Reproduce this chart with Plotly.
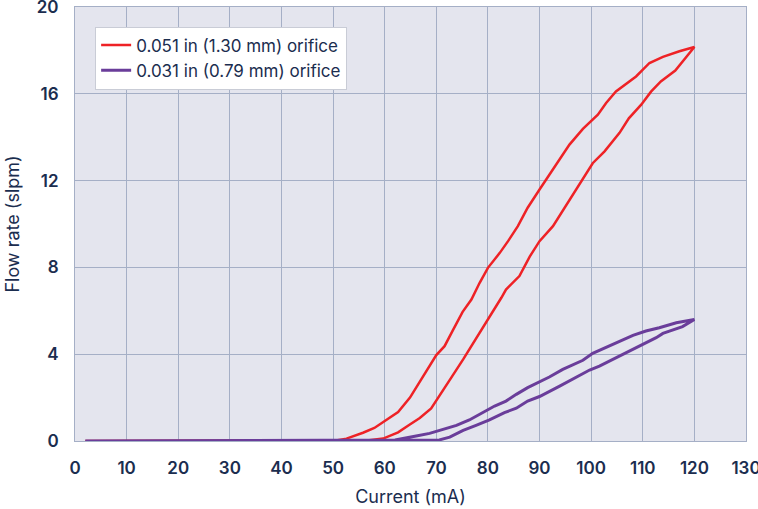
import plotly.graph_objects as go

# 0.051 in orifice: increasing current branch (lower) and decreasing branch (upper)
red_up_x = [2, 50, 57, 59.7, 62.6, 64.8, 66.8, 69.0, 71.0, 72.9, 75.2, 77.4, 79.7, 81.3, 82.6, 83.5,
            86.1, 88.1, 90.0, 92.6, 95.8, 98.4, 100.3, 102.6, 105.5, 107.3, 109.7, 111.6, 113.5, 116.3, 120]
red_up_y = [0, 0, 0.03, 0.11, 0.4, 0.75, 1.06, 1.5, 2.2, 2.92, 3.76, 4.6, 5.45, 6.06, 6.6, 6.98,
            7.6, 8.5, 9.21, 9.9, 11.1, 12.13, 12.8, 13.35, 14.2, 14.87, 15.5, 16.1, 16.57, 17.07, 18.16]
red_down_x = [120, 117.1, 113.9, 111.3, 108.7, 104.8, 102.9, 101.3, 98.4, 95.8, 93.2, 91.3, 90.0, 87.7,
              85.8, 83.9, 82.3, 80.0, 78.4, 76.8, 75.1, 73.2, 71.6, 70.0, 68.7, 66.8, 64.9, 62.6, 60.3,
              58, 55.8, 52.6, 50, 2]
red_down_y = [18.16, 17.96, 17.70, 17.42, 16.80, 16.11, 15.58, 15.04, 14.38, 13.66, 12.74, 12.09, 11.59,
              10.75, 9.90, 9.21, 8.67, 7.98, 7.29, 6.52, 5.95, 5.1, 4.37, 3.96, 3.45, 2.72, 2.0, 1.33,
              0.95, 0.6, 0.38, 0.11, 0, 0]

# 0.031 in orifice
pur_up_x = [2, 70.6, 72.6, 75.2, 77.7, 80.3, 83.2, 85.5, 87.7, 90.0, 93.9, 95.2, 99.7, 101.6, 105.5,
            109.4, 112.6, 113.9, 117.7, 120]
pur_up_y = [0, 0.05, 0.18, 0.49, 0.72, 0.97, 1.31, 1.51, 1.84, 2.05, 2.53, 2.69, 3.27, 3.45, 3.91,
            4.37, 4.76, 4.96, 5.27, 5.60]
pur_down_x = [120, 116.5, 113.2, 110.6, 108.1, 104.2, 100.3, 98.4, 94.5, 91.9, 90.0, 87.7, 85.5, 83.5,
              81.3, 79.0, 76.4, 73.9, 70.6, 68.7, 66.1, 64.2, 62, 2]
pur_down_y = [5.60, 5.45, 5.22, 5.07, 4.87, 4.45, 4.04, 3.72, 3.30, 2.95, 2.72, 2.46, 2.15, 1.84,
              1.61, 1.31, 0.97, 0.72, 0.49, 0.35, 0.23, 0.16, 0.05, 0]

names = ["0.051 in (1.30 mm) orifice", "0.031 in (0.79 mm) orifice"]
x_ticks = list(range(0, 131, 10))
y_ticks = list(range(0, 21, 4))

RED = "#ee2226"
PURPLE = "#6a3d9a"
TEXT = "#1b2d4f"
GRID = "#a5afc6"

fig = go.Figure()
fig.add_trace(go.Scatter(x=red_up_x + red_down_x, y=red_up_y + red_down_y, mode="lines",
                         name=names[0], line=dict(color=RED, width=2.5)))
fig.add_trace(go.Scatter(x=pur_up_x + pur_down_x, y=pur_up_y + pur_down_y, mode="lines",
                         name=names[1], line=dict(color=PURPLE, width=3)))

fig.update_layout(
    width=758, height=509,
    margin=dict(l=75, r=12, t=7, b=68),
    paper_bgcolor="white",
    plot_bgcolor="#e4e5ee",
    font=dict(family="Inter", color=TEXT, size=16),
    legend=dict(x=0.03, y=0.955, xanchor="left", yanchor="top",
                bgcolor="white", bordercolor="#c9ccd6", borderwidth=1,
                font=dict(size=17, color=TEXT), tracegroupgap=0),
    xaxis=dict(range=[0, 130], tickvals=x_ticks, showgrid=True, gridcolor=GRID, gridwidth=1,
               zeroline=False, showline=True, linecolor=GRID, mirror=True, automargin=False,
               ticks="outside", ticklen=12, tickcolor="rgba(0,0,0,0)",
               ticklabeloverflow="allow",
               tickfont=dict(size=17, weight=600, color=TEXT),
               title=dict(text="Current (mA)", font=dict(size=18, color=TEXT), standoff=12)),
    yaxis=dict(range=[0, 20], tickvals=y_ticks, showgrid=True, gridcolor=GRID, gridwidth=1,
               zeroline=False, showline=True, linecolor=GRID, mirror=True, automargin=False,
               ticks="outside", ticklen=12, tickcolor="rgba(0,0,0,0)",
               ticklabeloverflow="allow",
               tickfont=dict(size=17, weight=600, color=TEXT),
               title=dict(text="Flow rate (slpm)", font=dict(size=18, color=TEXT), standoff=12)),
    showlegend=True,
)

fig.write_html("out.html", config={"displayModeBar": False},
               post_script="document.body.style.margin='0';")
